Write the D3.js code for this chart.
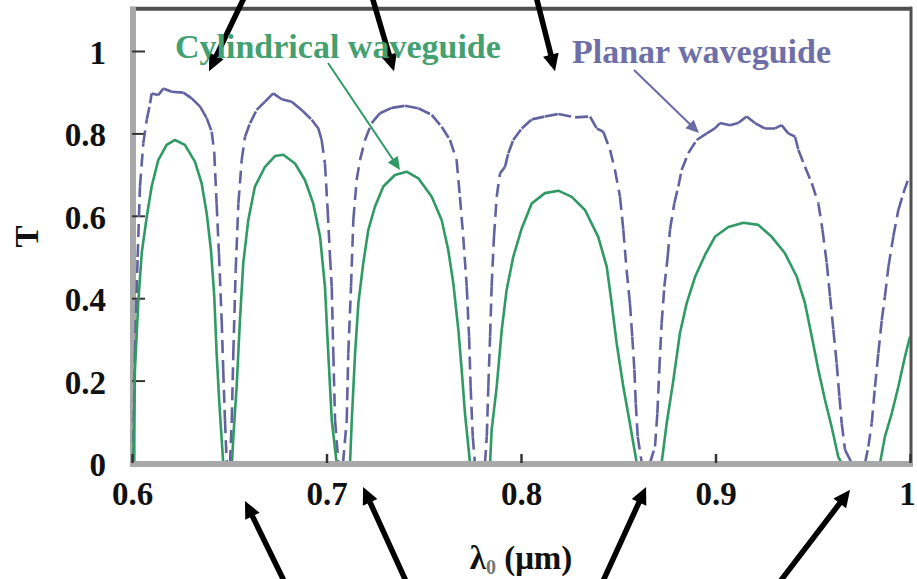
<!DOCTYPE html>
<html>
<head>
<meta charset="utf-8">
<script src="https://cdn.jsdelivr.net/npm/d3@7"></script>
<style>
  html, body { margin: 0; padding: 0; background: #fff; }
  svg { display: block; }
  text { font-family: "Liberation Serif", "Times New Roman", serif; font-weight: bold; }
</style>
</head>
<body>
<svg id="chart" width="917" height="579"></svg>
<script>
// Transmission T versus free-space wavelength for two waveguide geometries.

// Cylindrical waveguide (solid green)
const cylLambda = [0.6007,0.6015,0.6032,0.6050,0.6076,0.6101,0.6135,0.6178,0.6221,0.6272,0.6324,0.6358,0.6384,0.6406,0.6423,0.6435,0.6449,0.6469,0.6514,
  0.6521,0.6538,0.6555,0.6572,0.6598,0.6632,0.6684,0.6735,0.6778,0.6838,0.6889,0.6932,0.6967,0.6992,0.7009,0.7027,0.7052,0.7121,
  0.7130,0.7147,0.7164,0.7189,0.7215,0.7249,0.7292,0.7352,0.7412,0.7472,0.7541,0.7592,0.7626,0.7652,0.7678,0.7695,0.7712,0.7738,0.7841,
  0.7849,0.7875,0.7901,0.7926,0.7960,0.8004,0.8055,0.8123,0.8192,0.8261,0.8329,0.8397,0.8441,0.8466,0.8492,0.8526,0.8560,0.8595,0.8723,
  0.8749,0.8783,0.8817,0.8852,0.8895,0.8946,0.8997,0.9066,0.9143,0.9220,0.9289,0.9357,0.9418,0.9460,0.9495,0.9529,0.9563,0.9597,0.9631,0.9649,0.9846,
  0.9871,0.9906,0.9940,0.9974,1.0000];
const cylT = [0.000,0.226,0.388,0.510,0.598,0.671,0.735,0.772,0.784,0.772,0.731,0.679,0.606,0.517,0.404,0.267,0.145,0.000,0.000,
  0.064,0.185,0.347,0.485,0.590,0.671,0.719,0.745,0.748,0.727,0.687,0.630,0.549,0.428,0.267,0.104,0.000,0.000,
  0.104,0.267,0.388,0.485,0.566,0.622,0.671,0.699,0.707,0.691,0.646,0.590,0.517,0.436,0.323,0.226,0.120,0.000,0.000,
  0.080,0.185,0.323,0.420,0.500,0.570,0.630,0.655,0.661,0.646,0.614,0.549,0.476,0.388,0.290,0.185,0.096,0.000,0.000,
  0.096,0.200,0.315,0.388,0.452,0.505,0.549,0.573,0.583,0.578,0.549,0.509,0.452,0.388,0.307,0.226,0.153,0.088,0.015,0.000,0.000,
  0.064,0.120,0.185,0.258,0.307];

// Planar waveguide (dashed purple)
const planarLambda = [0.6005,0.6015,0.6029,0.6041,0.6058,0.6076,0.6093,0.6101,0.6135,0.6161,0.6204,0.6264,0.6307,0.6350,0.6384,0.6410,0.6423,0.6435,0.6447,0.6461,0.6469,0.6478,0.6487,0.6504,
  0.6513,0.6521,0.6533,0.6547,0.6564,0.6581,0.6607,0.6641,0.6684,0.6726,0.6770,0.6821,0.6872,0.6924,0.6958,0.6975,0.6992,0.7006,0.7018,0.7027,0.7035,0.7044,0.7061,0.7085,
  0.7104,0.7112,0.7126,0.7138,0.7155,0.7172,0.7198,0.7232,0.7275,0.7335,0.7404,0.7472,0.7541,0.7592,0.7635,0.7669,0.7686,0.7703,0.7721,0.7733,0.7741,0.7752,0.7763,0.7815,
  0.7824,0.7832,0.7841,0.7849,0.7861,0.7875,0.7892,0.7918,0.7935,0.7960,0.8004,0.8055,0.8123,0.8192,0.8278,0.8355,0.8389,0.8423,0.8458,0.8483,0.8509,0.8526,0.8543,0.8560,0.8572,0.8583,0.8590,0.8600,0.8621,0.8663,
  0.8689,0.8701,0.8711,0.8723,0.8737,0.8754,0.8766,0.8788,0.8809,0.8826,0.8860,0.8903,0.8955,0.8997,0.9023,0.9075,0.9117,0.9160,0.9203,0.9254,0.9306,0.9340,0.9374,0.9409,0.9426,0.9460,0.9495,0.9529,0.9550,0.9572,0.9589,0.9606,0.9623,0.9637,0.9649,0.9666,0.9700,0.9769,
  0.9786,0.9803,0.9820,0.9837,0.9855,0.9871,0.9889,0.9914,0.9940,0.9966,0.9995];
const planarT = [0.000,0.267,0.500,0.671,0.776,0.833,0.873,0.897,0.893,0.909,0.901,0.899,0.885,0.865,0.837,0.804,0.752,0.630,0.509,0.347,0.226,0.104,0.000,0.000,
  0.104,0.267,0.468,0.630,0.735,0.792,0.825,0.857,0.877,0.897,0.883,0.877,0.857,0.833,0.812,0.784,0.727,0.614,0.500,0.428,0.266,0.104,0.000,0.000,
  0.104,0.266,0.428,0.590,0.687,0.735,0.784,0.825,0.849,0.862,0.867,0.861,0.845,0.816,0.784,0.735,0.646,0.549,0.428,0.307,0.185,0.064,0.000,0.000,
  0.064,0.185,0.307,0.428,0.549,0.646,0.703,0.719,0.752,0.784,0.812,0.834,0.841,0.847,0.839,0.841,0.812,0.804,0.760,0.711,0.646,0.566,0.468,0.388,0.307,0.226,0.145,0.064,0.000,0.000,
  0.040,0.120,0.226,0.339,0.428,0.500,0.566,0.630,0.671,0.711,0.752,0.784,0.800,0.812,0.825,0.820,0.825,0.841,0.825,0.812,0.812,0.820,0.800,0.792,0.760,0.719,0.679,0.630,0.566,0.485,0.404,0.323,0.242,0.161,0.096,0.032,0.000,0.000,
  0.040,0.096,0.185,0.266,0.347,0.404,0.476,0.549,0.614,0.655,0.695];

const xTickValues = [0.6, 0.7, 0.8, 0.9, 1.0];
const xTickLabels = ["0.6", "0.7", "0.8", "0.9", "1"];
const yTickValues = [0, 0.2, 0.4, 0.6, 0.8, 1.0];
const yTickLabels = ["0", "0.2", "0.4", "0.6", "0.8", "1"];

const seriesNames = ["Cylindrical waveguide", "Planar waveguide"];
// Series label anchors (wavelength, T) and their pointer arrows [tailλ, tailT, tipλ, tipT]
const labelAnchors = [[0.6221, 0.983], [0.8262, 0.971]];
const labelPointers = [[0.7008, 0.971, 0.7378, 0.711], [0.8581, 0.954, 0.8915, 0.801]];

// Heavy arrows marking the transmission maxima (from above) and minima (from below)
const peakArrows = [[0.6595, 1.148, 0.6396, 0.951], [0.7224, 1.148, 0.7347, 0.951], [0.8069, 1.148, 0.8175, 0.951]];
const dipArrows = [[0.6804, -0.308, 0.6581, -0.092], [0.7429, -0.308, 0.7188, -0.058], [0.8401, -0.308, 0.8643, -0.058], [0.9299, -0.308, 0.9692, -0.065]];

const green = "#2f9a63", purple = "#6262a0";
const greenText = "#43a070", purpleText = "#6f6fa8";
const FONT = "'Liberation Serif', 'Times New Roman', serif";

const svg = d3.select("#chart");
const x = d3.scaleLinear().domain([0.6, 1.0]).range([132, 910]);
const y = d3.scaleLinear().domain([0, 1.1]).range([463, 9.8]);
const [x0, x1] = x.range();
const [yb, yt] = y.range();

// Frame: dark top/right edges, grey left axis
svg.append("line").attr("x1", x0 - 2).attr("x2", x1 + 2).attr("y1", yt - 1).attr("y2", yt - 1)
  .attr("stroke", "#505050").attr("stroke-width", 4);
svg.append("line").attr("x1", x1 + 1).attr("x2", x1 + 1).attr("y1", yt - 3).attr("y2", yb + 4)
  .attr("stroke", "#505050").attr("stroke-width", 3);
svg.append("line").attr("x1", x0 + 1).attr("x2", x0 + 1).attr("y1", yt - 3).attr("y2", yb + 4)
  .attr("stroke", "#a9a9a9").attr("stroke-width", 6);

// Y axis with inward ticks
const yAxis = d3.axisLeft(y).tickValues(yTickValues)
  .tickFormat((d, i) => yTickLabels[i]).tickSizeInner(-13).tickSizeOuter(0).tickPadding(26);
const gy = svg.append("g").attr("transform", `translate(${x0},0)`).call(yAxis);
gy.select(".domain").remove();
gy.selectAll(".tick line").attr("stroke", "#333").attr("stroke-width", 2);
gy.selectAll(".tick text").attr("font-size", 33).attr("fill", "#111")
  .attr("font-family", FONT).attr("font-weight", "bold").attr("dy", "0.38em");

// Curves
const clip = svg.append("defs").append("clipPath").attr("id", "plotClip");
clip.append("rect").attr("x", x0).attr("y", yt).attr("width", x1 - x0).attr("height", yb - yt + 2);
const plot = svg.append("g").attr("clip-path", "url(#plotClip)");
const line = d3.line().x(d => x(d[0])).y(d => y(d[1]));

// Planar: dashed, with the dash pattern restarting at each sample
const planarPts = planarLambda.map((l, i) => [l, planarT[i]]);
plot.append("g").selectAll("path").data(d3.pairs(planarPts)).join("path")
  .attr("d", d => line(d))
  .attr("fill", "none").attr("stroke", purple).attr("stroke-width", 2.6)
  .attr("stroke-dasharray", "13,7").attr("stroke-linecap", "butt");

const cylPts = cylLambda.map((l, i) => [l, cylT[i]]);
plot.append("path").datum(cylPts).attr("d", line)
  .attr("fill", "none").attr("stroke", green).attr("stroke-width", 2.6).attr("stroke-linejoin", "round");

// Bottom axis (grey) with inward ticks
svg.append("line").attr("x1", x0 - 2).attr("x2", x1 + 2).attr("y1", yb + 1).attr("y2", yb + 1)
  .attr("stroke", "#a9a9a9").attr("stroke-width", 6);
const xAxis = d3.axisBottom(x).tickValues(xTickValues)
  .tickFormat((d, i) => xTickLabels[i]).tickSizeInner(-9).tickSizeOuter(0).tickPadding(40);
const gx = svg.append("g").attr("transform", `translate(0,${yb})`).call(xAxis);
gx.select(".domain").remove();
gx.selectAll(".tick line").attr("stroke", "#333").attr("stroke-width", 2.5);
gx.selectAll(".tick text").attr("font-size", 33).attr("fill", "#111")
  .attr("font-family", FONT).attr("font-weight", "bold").attr("dy", "0.05em")
  .attr("dx", (d, i) => i === xTickValues.length - 1 ? -3 : 0);

// Axis titles
svg.append("text").attr("transform", `translate(38,${(yt + yb) / 2}) rotate(-90)`)
  .attr("text-anchor", "middle").attr("font-size", 33).attr("fill", "#111").text("T");
const xt = svg.append("text").attr("x", (x0 + x1) / 2).attr("y", 569)
  .attr("text-anchor", "middle").attr("font-size", 33).attr("fill", "#111");
xt.append("tspan").text("λ");
xt.append("tspan").attr("font-size", 20).attr("dy", 5).attr("fill", "#777").text("0");
xt.append("tspan").attr("dy", -5).text(" (μm)");

// Arrow helper: shaft plus filled triangular head
function arrow(g, a, color, width, headLen, headHalf) {
  const tx = x(a[0]), ty = y(a[1]), hx = x(a[2]), hy = y(a[3]);
  const dx = hx - tx, dy = hy - ty, len = Math.hypot(dx, dy);
  const ux = dx / len, uy = dy / len;
  const bx = hx - ux * headLen, by = hy - uy * headLen;
  g.append("line").attr("x1", tx).attr("y1", ty).attr("x2", bx + ux * 2).attr("y2", by + uy * 2)
    .attr("stroke", color).attr("stroke-width", width);
  g.append("path")
    .attr("d", `M${hx},${hy}L${bx - uy * headHalf},${by + ux * headHalf}L${bx + uy * headHalf},${by - ux * headHalf}Z`)
    .attr("fill", color);
}

const ann = svg.append("g");
peakArrows.concat(dipArrows).forEach(a => arrow(ann, a, "#000", 5.5, 17, 8));
arrow(ann, labelPointers[0], green, 2, 13, 6);
arrow(ann, labelPointers[1], "#6a6aa4", 2, 13, 6);

// Series labels
[greenText, purpleText].forEach((c, i) => {
  svg.append("text").attr("x", x(labelAnchors[i][0])).attr("y", y(labelAnchors[i][1]))
    .attr("font-size", 34).attr("fill", c).text(seriesNames[i]);
});
</script>
</body>
</html>
